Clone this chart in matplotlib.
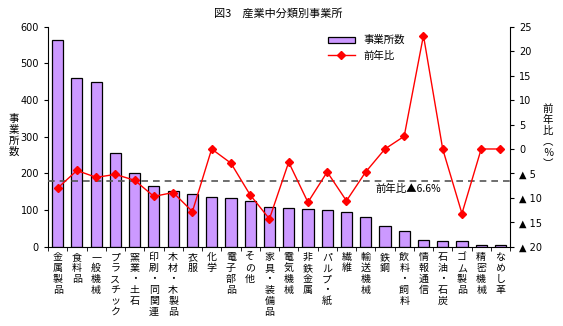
import matplotlib
matplotlib.use("Agg")
import matplotlib.pyplot as plt
import numpy as np

plt.rcParams['font.family'] = ['Noto Sans CJK JP', 'DejaVu Sans']

# 産業中分類
categories = ["金属製品", "食料品", "一般機械", "プラスチック", "窯業・土石", "印刷・同関連",
              "木材・木製品", "衣服", "化学", "電子部品", "その他", "家具・装備品",
              "電気機械", "非鉄金属", "パルプ・紙", "繊維", "輸送機械", "鉄鋼",
              "飲料・飼料", "情報通信", "石油・石炭", "ゴム製品", "精密機械", "なめし革"]
# 事業所数
counts = [563, 459, 448, 255, 200, 167, 151, 143, 135, 132, 124, 108,
          105, 104, 99, 94, 80, 56, 43, 18, 15, 15, 6, 6]
# 前年比 (%)
yoy = [-8.0, -4.4, -5.8, -5.2, -6.4, -9.7, -8.9, -12.8, 0.0, -2.9, -9.4, -14.3,
       -2.7, -10.9, -4.7, -10.6, -4.7, 0.0, 2.6, 23.2, 0.0, -13.2, 0.0, 0.0]
total_yoy = -6.6

right_ticks = [25, 20, 15, 10, 5, 0, -5, -10, -15, -20]
right_labels = [str(v) if v >= 0 else "▲ " + str(-v) for v in right_ticks]

W, H = 563, 326


def vertical_text(fig, s, px, py, step=11, size=7.5):
    # stack characters top to bottom, starting at pixel (px, py)
    for k, ch in enumerate(s):
        fig.text(px / W, 1 - (py + k * step) / H, ch, fontsize=size,
                 ha='center', va='top')


fig = plt.figure(figsize=(5.63, 3.26), dpi=100)
ax = fig.add_axes([0.0853, 0.243, 0.8207, 0.675])
x = np.arange(len(categories))

bars = ax.bar(x, counts, width=0.58, color="#CC99FF", edgecolor="black",
              linewidth=0.9, label="事業所数", zorder=2)
ax.set_xlim(-0.5, len(categories) - 0.5)
ax.set_ylim(0, 600)
ax.set_yticks(range(0, 601, 100))
ax.tick_params(axis='y', labelsize=7, length=3, direction='out')
for lab in ax.get_yticklabels():
    lab.set_family('DejaVu Sans')

ax.set_xticks(x)
ax.set_xticklabels([])
ax.tick_params(axis='x', length=0)
ax.set_xticks(np.arange(-0.5, len(categories), 1.0), minor=True)
ax.tick_params(axis='x', which='minor', length=3, direction='out')

# vertical category labels
for i, c in enumerate(categories):
    for k, ch in enumerate(c):
        ax.annotate(ch, xy=(i, 0), xycoords=('data', 'axes fraction'),
                    xytext=(0, -4 - 7.9 * k), textcoords='offset points',
                    ha='center', va='top', fontsize=7.2)

for side in ['top', 'right']:
    ax.spines[side].set_visible(False)

ax2 = ax.twinx()
line, = ax2.plot(x, yoy, color="red", linewidth=1, marker="D", markersize=4.2,
                 label="前年比", zorder=3)
ax2.axhline(total_yoy, color="#555555", linestyle=(0, (4, 3)), linewidth=1.2, zorder=1)
ax2.text(16.5, total_yoy - 0.6, "前年比▲6.6%", fontsize=7.5, va='top', ha='left')
ax2.set_ylim(-20, 25)
ax2.set_yticks(right_ticks)
ax2.set_yticklabels(right_labels, fontsize=7, family='DejaVu Sans')
ax2.tick_params(axis='y', length=3, direction='out')
for side in ['top', 'left', 'bottom']:
    ax2.spines[side].set_visible(False)
ax.set_zorder(ax2.get_zorder() - 1)
ax.patch.set_visible(True)
ax2.patch.set_visible(False)

fig.text(0.494, 0.96, "図3　産業中分類別事業所", fontsize=8, ha='center', va='center')
vertical_text(fig, "事業所数", 14, 114)
vertical_text(fig, "前年比︵％︶", 548, 104)

fig.legend(handles=[bars, line], loc='upper left', bbox_to_anchor=(0.575, 0.905),
           frameon=False, fontsize=7.5, handlelength=2.6, handleheight=0.5,
           labelspacing=0.5, borderaxespad=0)

fig.savefig("out.png", dpi=100)
